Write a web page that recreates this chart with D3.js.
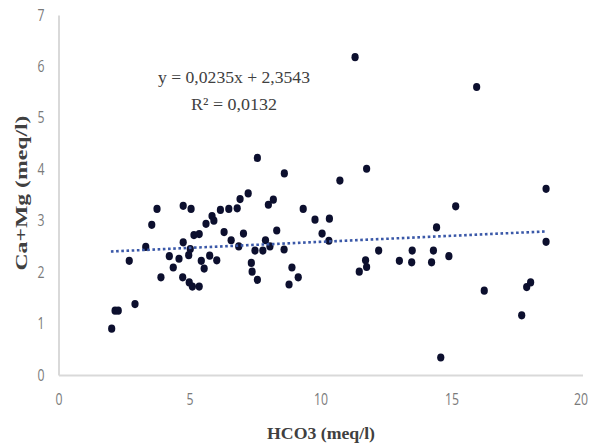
<!DOCTYPE html>
<html>
<head>
<meta charset="utf-8">
<script src="https://cdn.jsdelivr.net/npm/d3@7"></script>
<style>
  html, body { margin: 0; padding: 0; background: #ffffff; }
  svg { display: block; }
</style>
</head>
<body>
<svg id="chart" width="592" height="448"></svg>
<script>
// ---- data ----
const hco3 = [2.03, 2.16, 2.28, 2.92, 2.70, 3.33, 3.56, 3.76, 3.91, 4.23,
  4.38, 4.60, 4.76, 4.74, 4.76, 4.97, 5.03, 4.99, 5.06, 5.11,
  5.17, 5.37, 5.37, 5.45, 5.56, 5.77, 6.04, 5.63, 5.86, 5.93,
  6.18, 6.50, 6.82, 6.93, 7.24, 6.32, 6.59, 6.88, 7.06, 7.36,
  7.39, 7.59, 7.50, 7.80, 7.90, 8.07, 8.33, 8.61, 8.91, 9.15,
  8.80, 8.01, 8.20, 7.59, 8.62, 9.34, 9.79, 10.34, 10.06, 10.32,
  10.74, 11.32, 11.76, 11.48, 11.72, 11.76, 12.22, 13.01, 13.50, 13.48,
  14.31, 14.24, 14.43, 14.90, 15.16, 14.59, 15.96, 16.25, 17.68, 17.87,
  18.02, 18.61, 18.61];
const caMg = [0.90, 1.25, 1.25, 1.38, 2.22, 2.49, 2.92, 3.23, 1.90, 2.31,
  2.09, 2.26, 2.58, 1.90, 3.29, 2.33, 2.45, 1.80, 3.23, 1.72,
  2.72, 1.72, 2.74, 2.22, 2.07, 2.32, 2.23, 2.94, 3.09, 3.00,
  3.21, 3.23, 3.24, 3.42, 3.53, 2.78, 2.62, 2.50, 2.75, 2.18,
  2.01, 1.85, 2.42, 2.42, 2.62, 2.50, 2.81, 2.44, 2.09, 1.90,
  1.76, 3.31, 3.41, 4.22, 3.92, 3.23, 3.02, 3.04, 2.75, 2.61,
  3.78, 6.18, 4.01, 2.01, 2.23, 2.10, 2.42, 2.22, 2.42, 2.19,
  2.42, 2.19, 2.87, 2.31, 3.28, 0.34, 5.60, 1.64, 1.16, 1.71,
  1.80, 2.59, 3.62];
const xTicks = [0, 5, 10, 15, 20];
const yTicks = [0, 1, 2, 3, 4, 5, 6, 7];
const slope = 0.0235;
const intercept = 2.3543;
const trendX = [2.0, 18.63];
const equationText = "y = 0,0235x + 2,3543";
const r2Text = "R² = 0,0132";
const xTitle = "HCO3 (meq/l)";
const yTitle = "Ca+Mg (meq/l)";

// ---- chart ----
const svg = d3.select("#chart");
const x = d3.scaleLinear().domain([0, 20]).range([58.5, 582.5]);
const y = d3.scaleLinear().domain([0, 7]).range([375, 15]);

const axisColor = "#d9d9d9";
const tickColor = "#7a7a7a";
const tickFont = "'Open Sans', 'Noto Sans', sans-serif";
const fmt = d3.format("d");

function styleTicks(g) {
  g.selectAll("text")
    .attr("fill", tickColor)
    .style("font-family", tickFont)
    .style("font-size", "16px")
    .attr("textLength", function() { return this.textContent.length * 7; })
    .attr("lengthAdjust", "spacingAndGlyphs");
}

const gx = svg.append("g")
  .attr("transform", `translate(0,${y(0)})`)
  .call(d3.axisBottom(x).tickValues(xTicks).tickFormat(fmt).tickSize(0).tickSizeOuter(0).tickPadding(19));
gx.select(".domain").attr("stroke", axisColor).attr("stroke-width", 2);
styleTicks(gx);
gx.selectAll(".tick text").filter(d => d === 20).attr("dx", -2);

const gy = svg.append("g")
  .attr("transform", `translate(${x(0)},0)`)
  .call(d3.axisLeft(y).tickValues(yTicks).tickFormat(fmt).tickSize(0).tickSizeOuter(0).tickPadding(14));
gy.select(".domain").attr("stroke", axisColor).attr("stroke-width", 2);
styleTicks(gy);

// points
const pts = hco3.map((v, i) => ({ x: v, y: caMg[i] }));
svg.append("g").selectAll("ellipse").data(pts).join("ellipse")
  .attr("cx", d => x(d.x))
  .attr("cy", d => y(d.y))
  .attr("rx", 3.6)
  .attr("ry", 4.1)
  .attr("fill", "#0c0f2e");

// trendline
svg.append("line")
  .attr("x1", x(trendX[0])).attr("y1", y(intercept + slope * trendX[0]))
  .attr("x2", x(trendX[1])).attr("y2", y(intercept + slope * trendX[1]))
  .attr("stroke", "#3a58a8")
  .attr("stroke-width", 2.6)
  .attr("stroke-dasharray", "2.6,2.6");

// equation text
const serif = "'Liberation Serif', 'Times New Roman', serif";
svg.append("text")
  .attr("x", 234).attr("y", 83)
  .attr("text-anchor", "middle")
  .attr("fill", "#404040")
  .style("font-family", serif).style("font-size", "17px")
  .attr("textLength", 152).attr("lengthAdjust", "spacingAndGlyphs")
  .text(equationText);
svg.append("text")
  .attr("x", 234).attr("y", 110)
  .attr("text-anchor", "middle")
  .attr("fill", "#404040")
  .style("font-family", serif).style("font-size", "17px")
  .attr("textLength", 86).attr("lengthAdjust", "spacingAndGlyphs")
  .text(r2Text);

// axis titles
svg.append("text")
  .attr("x", 321).attr("y", 439)
  .attr("text-anchor", "middle")
  .attr("fill", "#404040")
  .style("font-family", serif).style("font-size", "17px").style("font-weight", "bold")
  .attr("textLength", 108).attr("lengthAdjust", "spacingAndGlyphs")
  .text(xTitle);
svg.append("text")
  .attr("transform", "translate(27,193) rotate(-90)")
  .attr("text-anchor", "middle")
  .attr("fill", "#404040")
  .style("font-family", serif).style("font-size", "17px").style("font-weight", "bold")
  .attr("textLength", 155).attr("lengthAdjust", "spacingAndGlyphs")
  .text(yTitle);
</script>
</body>
</html>
